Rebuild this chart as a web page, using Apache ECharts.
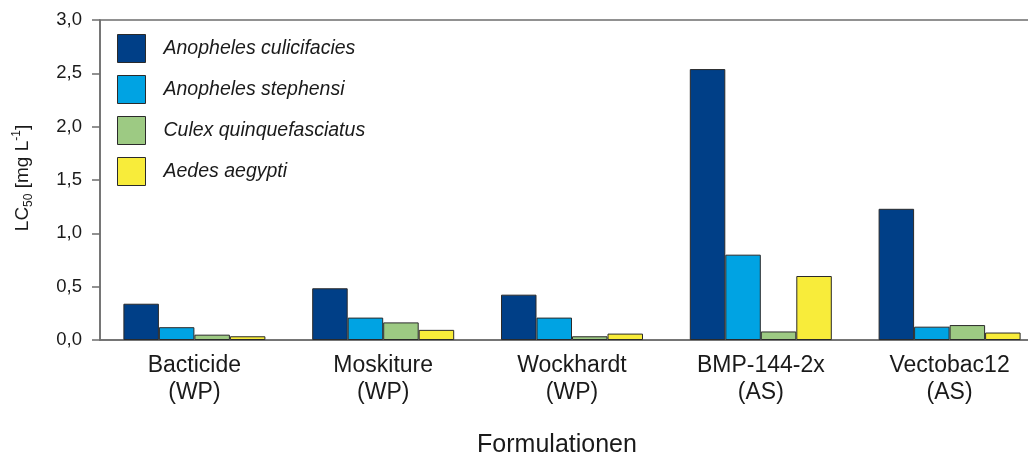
<!DOCTYPE html>
<html>
<head>
<meta charset="utf-8">
<script src="https://cdn.jsdelivr.net/npm/echarts@6/dist/echarts.min.js"></script>
<style>
html, body { margin: 0; padding: 0; background: #fff; }
#main { width: 1028px; height: 459px; }
</style>
</head>
<body>
<div id="main"></div>
<script>
// Formulierungen und LC50-Werte je Art
var kategorien = ['Bacticide\n(WP)', 'Moskiture\n(WP)', 'Wockhardt\n(WP)', 'BMP-144-2x\n(AS)', 'Vectobac12\n(AS)']
var arten = ['Anopheles culicifacies', 'Anopheles stephensi', 'Culex quinquefasciatus', 'Aedes aegypti']
var culicifacies = [0.34, 0.485, 0.425, 2.54, 1.23]
var stephensi = [0.12, 0.21, 0.21, 0.80, 0.125]
var quinquefasciatus = [0.05, 0.165, 0.035, 0.08, 0.14]
var aegypti = [0.035, 0.095, 0.06, 0.60, 0.07]
var farben = ['#003f87', '#00a3e3', '#9dca83', '#f8ec3a']

var werte = [culicifacies, stephensi, quinquefasciatus, aegypti]
var series = []
for (var i = 0; i < arten.length; i++) {
    series.push({
        name: arten[i],
        type: 'bar',
        data: werte[i],
        barWidth: 35.5,
        barGap: '0%',
        itemStyle: { color: farben[i], borderColor: '#2a2a2a', borderWidth: 1 }
    })
}

var myChart = echarts.init(document.getElementById('main'))
myChart.setOption({
    animation: false,
    textStyle: { fontFamily: 'Liberation Sans' },
    grid: {
        left: 100, top: 20, width: 944, height: 320,
        outerBoundsMode: 'none',
        show: true, borderColor: '#6e6e6e', borderWidth: 1.5
    },
    legend: {
        orient: 'vertical',
        left: 117, top: 34,
        padding: 0,
        itemWidth: 28, itemHeight: 28, itemGap: 12,
        icon: 'rect',
        data: arten,
        itemStyle: { borderColor: '#2a2a2a', borderWidth: 1 },
        textStyle: { fontSize: 19.5, fontStyle: 'italic', color: '#1a1a1a', padding: [0, 0, 0, 13] }
    },
    xAxis: {
        type: 'category',
        data: kategorien,
        axisLine: { lineStyle: { color: '#6e6e6e', width: 1.5 } },
        axisTick: { show: false },
        axisLabel: { fontSize: 23, color: '#1a1a1a', lineHeight: 27, margin: 12 },
        name: 'Formulationen',
        nameLocation: 'middle',
        nameGap: 93,
        nameTextStyle: { fontSize: 25, color: '#1a1a1a', padding: [0, 30, 0, 0] }
    },
    yAxis: {
        type: 'value',
        min: 0, max: 3, interval: 0.5,
        axisLine: { show: true, lineStyle: { color: '#6e6e6e', width: 1.5 } },
        axisTick: { show: true, length: 8, lineStyle: { color: '#6e6e6e', width: 1.5 } },
        splitLine: { show: false },
        axisLabel: {
            fontSize: 18.5, color: '#1a1a1a', margin: 18,
            formatter: function (v) { return v.toFixed(1).replace('.', ',') }
        }
    },
    graphic: [{
        type: 'text',
        x: 23, y: 178,
        rotation: Math.PI / 2,
        style: {
            text: '{a|LC}{b|50}{a| [mg L}{c|-1}{a|]}',
            align: 'center',
            verticalAlign: 'middle',
            rich: {
                a: { fontSize: 19, fill: '#1a1a1a', fontFamily: 'Liberation Sans', lineHeight: 24, verticalAlign: 'middle' },
                b: { fontSize: 12, fill: '#1a1a1a', fontFamily: 'Liberation Sans', verticalAlign: 'bottom', lineHeight: 24 },
                c: { fontSize: 12, fill: '#1a1a1a', fontFamily: 'Liberation Sans', verticalAlign: 'top', lineHeight: 24 }
            }
        }
    }],
    series: series
})
</script>
</body>
</html>
